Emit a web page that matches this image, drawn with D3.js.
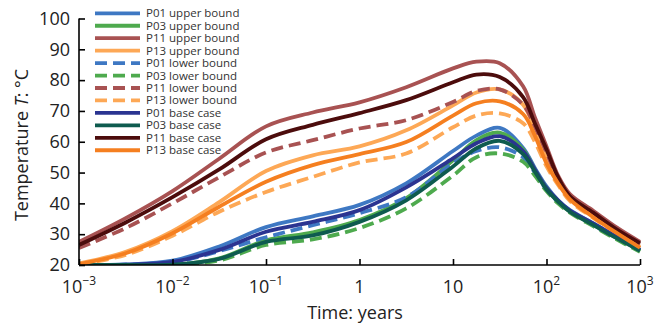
<!DOCTYPE html>
<html>
<head>
<meta charset="utf-8">
<script src="https://cdn.jsdelivr.net/npm/d3@7"></script>
<style>
  html, body { margin: 0; padding: 0; background: #fff; }
  svg { display: block; font-family: "Open Sans", "Noto Sans", sans-serif; }
</style>
</head>
<body>
<svg id="chart" width="666" height="329"></svg>
<script>
// Time points (years)
const times = [0.001, 0.00316, 0.01, 0.0316, 0.1, 0.316, 1, 3.16, 10, 17.8, 31.6, 56.2, 75, 100, 133, 178, 316, 562, 1000];

// Temperature series (°C)
const p01Upper = [20, 20.2, 21.4, 26, 32.3, 35.8, 39.5, 46.5, 57, 62, 64.5, 58, 51.5, 45.5, 41, 37.8, 33.5, 29.2, 25];
const p03Upper = [20, 20, 20.1, 22.2, 28, 30.6, 34.6, 41.7, 54, 60.5, 63, 57.5, 51, 45, 40.5, 37.3, 33, 28.8, 24.8];
const p11Upper = [27.5, 35.2, 44, 54.5, 65, 69.5, 72.8, 77.7, 83.8, 86, 85.5, 78, 68, 58.5, 49, 43, 37.6, 32.2, 27.5];
const p13Upper = [20.5, 24.3, 31, 40.4, 50.5, 55.6, 58.5, 63.7, 71.8, 76, 77, 72, 64, 54.5, 47, 41.5, 35.8, 30.7, 26];
const p01Lower = [20, 20.1, 20.8, 24.5, 29, 32.9, 36.8, 42, 53, 57, 58.2, 55, 50, 44.5, 40.5, 37.5, 33, 28.8, 24.8];
const p03Lower = [20, 20, 20, 21.5, 26.5, 28.3, 32, 38.4, 49, 55, 56.2, 53.5, 49, 44, 40, 37, 32.6, 28.3, 24.3];
const p11Lower = [25.5, 32, 40, 48.5, 56.5, 60.5, 64.3, 67, 72.9, 76.5, 77, 72, 65, 56.5, 48, 42, 37, 31.6, 26.8];
const p13Lower = [20.2, 23.3, 29.5, 37.3, 43.7, 48.6, 53.3, 56.2, 64.7, 68.5, 69.2, 66, 60, 52, 46, 40.8, 35.3, 30.2, 25.5];
const p01Base  = [20, 20.1, 21, 24.9, 30.8, 34, 37.8, 45.2, 54.6, 59.5, 61.8, 57, 51, 45, 41, 37.7, 33.5, 29.1, 24.9];
const p03Base  = [20, 20, 20.1, 22, 27.5, 29.6, 34, 41, 52, 57.9, 60.3, 56, 50.3, 44.5, 40.6, 37.3, 33, 28.7, 24.6];
const p11Base  = [26.5, 33.8, 42, 51, 60.8, 65.5, 69.3, 73.5, 79.3, 81.8, 81, 74.5, 66, 57.5, 48.5, 42.3, 37, 31.6, 27.1];
const p13Base  = [20.3, 23.8, 30.3, 38.9, 47, 52.4, 56, 59.9, 68.5, 72.5, 73.1, 69, 62, 53, 46.5, 41.3, 35.5, 30.4, 25.6];

const seriesNames = [
  "P01 upper bound", "P03 upper bound", "P11 upper bound", "P13 upper bound",
  "P01 lower bound", "P03 lower bound", "P11 lower bound", "P13 lower bound",
  "P01 base case", "P03 base case", "P11 base case", "P13 base case"
];
const seriesValues = [p01Upper, p03Upper, p11Upper, p13Upper, p01Lower, p03Lower, p11Lower, p13Lower, p01Base, p03Base, p11Base, p13Base];
const seriesColors = ["#3e78c3", "#4eaa4e", "#a85252", "#fda856", "#3e78c3", "#4eaa4e", "#a85252", "#fda856", "#2b3491", "#0e5b4f", "#4c0c0c", "#f57f20"];
const seriesDashed = [false, false, false, false, true, true, true, true, false, false, false, false];

const xTicks = [1e-3, 1e-2, 1e-1, 1, 10, 100, 1000];
const xTickLabels = [["10", "−3"], ["10", "−2"], ["10", "−1"], ["1", ""], ["10", ""], ["10", "2"], ["10", "3"]];
const yTicks = [20, 30, 40, 50, 60, 70, 80, 90, 100];

const svg = d3.select("#chart");
const x = d3.scaleLog().domain([1e-3, 1e3]).range([79, 640]);
const y = d3.scaleLinear().domain([20, 100]).range([265, 18.5]);

const line = d3.line()
  .x(d => x(d[0]))
  .y(d => y(d[1]))
  .curve(d3.curveCatmullRom.alpha(0.5));

svg.append("defs").append("clipPath").attr("id", "clip")
  .append("rect").attr("x", 79).attr("y", 0).attr("width", 563).attr("height", 265);

const plot = svg.append("g").attr("clip-path", "url(#clip)");
seriesValues.forEach((vals, i) => {
  plot.append("path")
    .datum(times.map((t, j) => [t, vals[j]]))
    .attr("d", line)
    .attr("fill", "none")
    .attr("stroke", seriesColors[i])
    .attr("stroke-width", 3.8)
    .attr("stroke-dasharray", seriesDashed[i] ? "12,6" : null);
});

// Axes
const xAxis = d3.axisBottom(x).tickValues(xTicks).tickSize(-6).tickFormat("");
const gx = svg.append("g").attr("transform", "translate(0,265)").call(xAxis);
gx.select(".domain").attr("d", "M79,0H640").attr("stroke", "#000").attr("stroke-width", 1.6);
gx.selectAll(".tick line").attr("stroke", "#000").attr("stroke-width", 1.6);

const yAxis = d3.axisLeft(y).tickValues(yTicks).tickSize(-6).tickFormat("");
const gy = svg.append("g").attr("transform", "translate(79,0)").call(yAxis);
gy.select(".domain").attr("d", "M0,18.5V265").attr("stroke", "#000").attr("stroke-width", 1.6);
gy.selectAll(".tick line").attr("stroke", "#000").attr("stroke-width", 1.6);

// Tick labels
const tickFont = 18;
xTicks.forEach((t, i) => {
  const txt = svg.append("text")
    .attr("x", x(t))
    .attr("y", 293)
    .attr("text-anchor", "middle")
    .attr("font-size", tickFont)
    .attr("fill", "#222");
  txt.append("tspan").text(xTickLabels[i][0]);
  if (xTickLabels[i][1]) {
    txt.append("tspan").attr("dy", -8).attr("font-size", 12).text(xTickLabels[i][1]);
  }
});
yTicks.forEach(v => {
  svg.append("text")
    .attr("x", 70)
    .attr("y", y(v))
    .attr("dy", "0.35em")
    .attr("text-anchor", "end")
    .attr("font-size", tickFont)
    .attr("fill", "#222")
    .text(v);
});

// Axis titles
svg.append("text")
  .attr("x", 355).attr("y", 319)
  .attr("text-anchor", "middle")
  .attr("font-size", tickFont)
  .attr("fill", "#222")
  .text("Time: years");

const yt = svg.append("text")
  .attr("transform", "translate(28,145) rotate(-90)")
  .attr("text-anchor", "middle")
  .attr("font-size", tickFont)
  .attr("fill", "#222");
yt.append("tspan").text("Temperature ");
yt.append("tspan").attr("font-style", "italic").text("T");
yt.append("tspan").text(": °C");

// Legend
const legend = svg.append("g");
seriesNames.forEach((name, i) => {
  const ly = 13.3 + i * 12.45;
  legend.append("line")
    .attr("x1", 95).attr("x2", 140)
    .attr("y1", ly).attr("y2", ly)
    .attr("stroke", seriesColors[i])
    .attr("stroke-width", 3.8)
    .attr("stroke-dasharray", seriesDashed[i] ? "12,6" : null);
  legend.append("text")
    .attr("x", 146).attr("y", ly)
    .attr("dy", "0.35em")
    .attr("font-size", 11.5)
    .attr("fill", "#333")
    .text(name);
});
</script>
</body>
</html>
